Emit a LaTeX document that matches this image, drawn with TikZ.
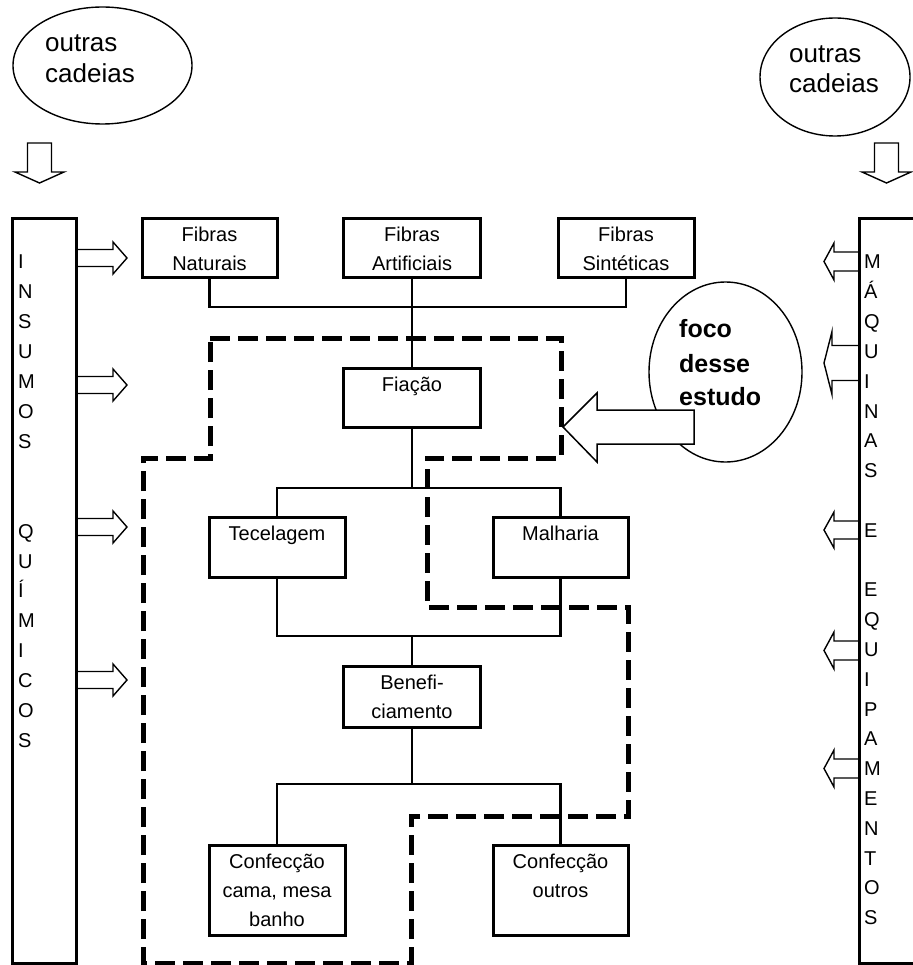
\documentclass[tikz,border=0pt]{standalone}
\usepackage{fontspec}
\setmainfont{Liberation Sans}
\usetikzlibrary{shapes.geometric}
\newcommand{\bxt}[3]{\parbox[c][#2][t]{#1}{\centering\rule{0pt}{23pt}#3}}
\begin{document}
\begin{tikzpicture}[x=1pt,y=-1pt,
  boxnode/.style={draw, line width=3pt, inner sep=0pt, fill=white, font=\fontsize{20}{29}\selectfont},
  conn/.style={line width=2.3pt},
  hollow/.style={draw, line width=1.4pt, line join=miter},
  focusline/.style={line width=5pt, dash pattern=on 20pt off 8pt},
  colbox/.style={draw, line width=3pt, inner sep=0pt},
  oval/.style={draw, ellipse, line width=1.4pt, inner sep=0pt},
  txt/.style={anchor=base west, inner sep=0pt, font=\fontsize{20}{29}\selectfont},
  bigtxt/.style={anchor=base west, inner sep=0pt, font=\fontsize{26}{30}\selectfont},
  bftxt/.style={anchor=base west, inner sep=0pt, font=\fontsize{25}{34}\selectfont\bfseries}]
\useasboundingbox (0,0) rectangle (912,965);

% outras cadeias (left)
\node[oval, minimum width=179pt, minimum height=117pt] (oc1) at (102.5,65.5) {};
\node[bigtxt] (oc1a) at (45,52) {outras};
\node[bigtxt] (oc1b) at (45,83) {cadeias};
% outras cadeias (right)
\node[oval, minimum width=150pt, minimum height=118pt] (oc2) at (835,77) {};
\node[bigtxt] (oc2a) at (789,63) {outras};
\node[bigtxt] (oc2b) at (789,93) {cadeias};

% down arrows
\foreach \cx in {39.5,886.5}{
  \draw[hollow] (\cx-12,143) -- (\cx+12,143) -- (\cx+12,172) -- (\cx+24.5,172) -- (\cx,183) -- (\cx-24.5,172) -- (\cx-12,172) -- cycle;
}

% side columns
\node[colbox, minimum width=64pt, minimum height=744pt] (ins) at (44,591) {};
\node[colbox, minimum width=64pt, minimum height=744pt] (maq) at (891,591) {};
\foreach \l [count=\i from 0] in {I,N,S,U,M,O,S,{},{},Q,U,Í,M,I,C,O,S}{
  \node[txt] (li\i) at (18,269+29.9*\i) {\l};
}
\foreach \l [count=\i from 0] in {M,Á,Q,U,I,N,A,S,{},E,{},E,Q,U,I,P,A,M,E,N,T,O,S}{
  \node[txt] (ri\i) at (864,269+29.8*\i) {\l};
}

% left hollow arrows
\foreach \cy in {258,385,527,680}{
  \draw[hollow] (76,\cy-8.5) -- (113,\cy-8.5) -- (113,\cy-16) -- (127,\cy) -- (113,\cy+16) -- (113,\cy+8.5) -- (76,\cy+8.5);
}
% right hollow arrows
\foreach \cy/\sh/\hh/\bx in {261.5/9.5/18.5/834, 363/17.5/31.5/832, 530/9/18/834, 650.5/9.5/18.5/834, 768.5/9.5/18.5/834}{
  \draw[hollow] (859,\cy-\sh) -- (\bx,\cy-\sh) -- (\bx,\cy-\hh) -- (824,\cy) -- (\bx,\cy+\hh) -- (\bx,\cy+\sh) -- (859,\cy+\sh);
}

% focus region
\draw[focusline] (210,338) -- (561,338) -- (561,458) -- (427,458) -- (427,607) -- (628,607) -- (628,816) -- (411,816) -- (411,963) -- (143,963) -- (143,458) -- (210,458) -- cycle;

% boxes
\node[boxnode] (fn) at (209.5,248.5) {\bxt{135pt}{59pt}{Fibras\\Naturais}};
\node[boxnode] (fa) at (412,248.5) {\bxt{137pt}{59pt}{Fibras\\Artificiais}};
\node[boxnode] (fs) at (626,248.5) {\bxt{136pt}{59pt}{Fibras\\Sintéticas}};
\node[boxnode] (fi) at (412,397.5) {\bxt{137pt}{59pt}{Fiação}};
\node[boxnode] (te) at (277,547) {\bxt{136pt}{60pt}{Tecelagem}};
\node[boxnode] (ma) at (560.5,547) {\bxt{135pt}{60pt}{Malharia}};
\node[boxnode] (be) at (412,696.5) {\bxt{137pt}{61pt}{Benefi-\\ciamento}};
\node[boxnode] (cc) at (277,890) {\bxt{136pt}{90pt}{Confecção\\cama, mesa\\banho}};
\node[boxnode] (co) at (560.5,890) {\bxt{135pt}{90pt}{Confecção\\outros}};

% connectors
\coordinate (j1) at (412,307);
\coordinate (j2) at (412,488);
\coordinate (j3) at (412,636);
\coordinate (j4) at (412,784);
\draw[conn] (fn.south) |- (j1) -| (fs.south);
\draw[conn] (fa.south) -- (fi.north);
\draw[conn] (fi.south) -- (j2);
\draw[conn] (te.north) |- (j2) -| (ma.north);
\draw[conn] (te.south) |- (j3) -| (ma.south);
\draw[conn] (j3) -- (be.north);
\draw[conn] (be.south) -- (j4);
\draw[conn] (cc.north) |- (j4) -| (co.north);

% foco desse estudo
\node[oval, minimum width=153pt, minimum height=180pt] (foco) at (725.5,372) {};
\node[bftxt] (fc1) at (679,337) {foco};
\node[bftxt] (fc2) at (679,372) {desse};
\node[bftxt] (fc3) at (679,405) {estudo};
\draw[hollow, fill=white, line width=1.5pt] (694,410) -- (597,410) -- (597,393) -- (563,427) -- (597,462) -- (597,444) -- (694,444) -- cycle;
\end{tikzpicture}
\end{document}
